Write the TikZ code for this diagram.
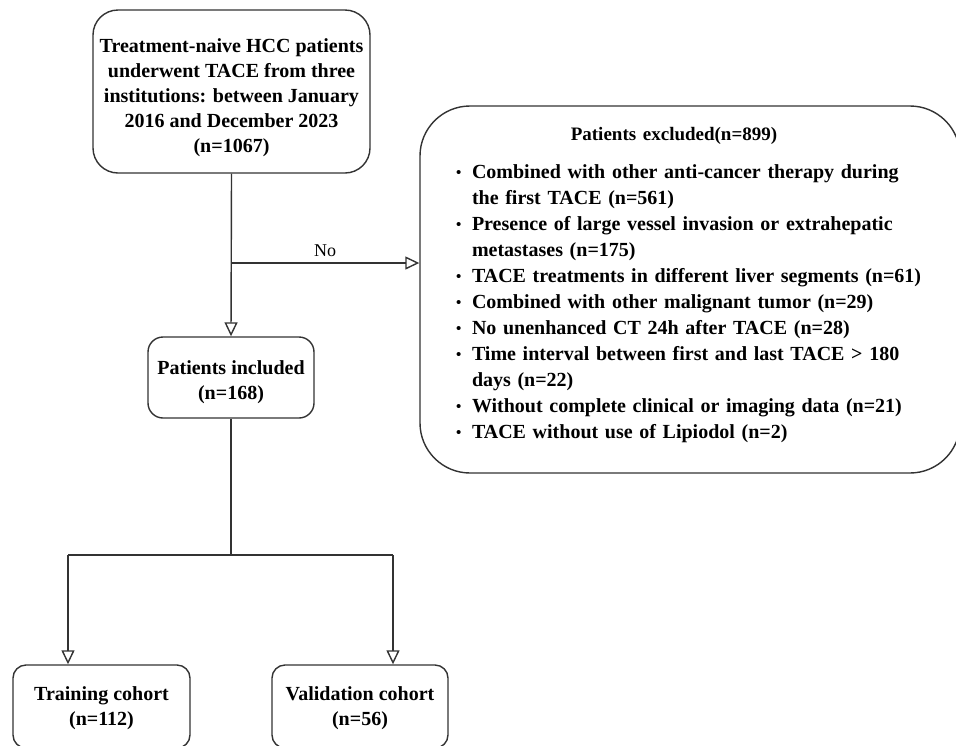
\documentclass[tikz,border=0pt]{standalone}
\usepackage{fontspec}
\setmainfont{Liberation Serif}
\usetikzlibrary{arrows.meta}
\newcommand\bitem[1]{\par\hangindent=17pt\hangafter=1\noindent\makebox[17pt][l]{\hspace{1pt}\raisebox{1.5pt}{\fontsize{15}{15}\selectfont\textbullet}}#1\par}
\newcommand\brk{\hfil\break}
\begin{document}
\begin{tikzpicture}[x=1pt,y=-1pt,
  box/.style={draw=black!80, line width=1.4pt, fill=white, align=center,
    font=\bfseries\fontsize{20}{25}\selectfont, inner sep=0pt},
  conn/.style={draw=black!80, line width=1.4pt},
  arr/.style={conn, -{Triangle[open, length=14pt, width=13pt]}}]
\useasboundingbox (0,0) rectangle (956,745);
\node[box, rounded corners=25pt, minimum width=277pt, minimum height=163pt] (top) at (231.5,91.5)
  {\rule{0pt}{26pt}Treatment-naive HCC patients\\underwent TACE from three\\institutions: between January\\2016 and December 2023\\(n=1067)};
\node[box, rounded corners=15pt, minimum width=166pt, minimum height=81pt] (inc) at (231,377.5)
  {\rule{0pt}{24pt}Patients included\\(n=168)};
\node[box, rounded corners=13pt, minimum width=177pt, minimum height=83pt] (train) at (101.5,706.5)
  {\rule{0pt}{18pt}Training cohort\\(n=112)};
\node[box, rounded corners=13pt, minimum width=176pt, minimum height=83pt] (val) at (360,706.5)
  {\rule{0pt}{18pt}Validation cohort\\(n=56)};
\node[box, rounded corners=50pt, minimum width=540pt, minimum height=367pt, text width=470pt, align=left,
  font=\bfseries\fontsize{20}{26}\selectfont] (excl) at (690,289.5)
  {\makebox[\linewidth]{\fontsize{19}{26}\selectfont Patients excluded(n=899)\hspace{32pt}}\par\vspace{12pt}
   \bitem{Combined with other anti-cancer therapy during\brk the first TACE (n=561)}
   \bitem{Presence of large vessel invasion or extrahepatic\brk metastases (n=175)}
   \bitem{TACE treatments in different liver segments (n=61)}
   \bitem{Combined with other malignant tumor (n=29)}
   \bitem{No unenhanced CT 24h after TACE (n=28)}
   \bitem{Time interval between first and last TACE > 180\brk days (n=22)}
   \bitem{Without complete clinical or imaging data (n=21)}
   \bitem{TACE without use of Lipiodol (n=2)\rule[-13pt]{0pt}{1pt}}};
\coordinate (br) at (231,263);
\coordinate (sl) at (68,555);
\coordinate (sr) at (393,555);
\coordinate (sm) at (231,555);
\draw[arr] (top.south) -- (inc.north);
\draw[arr] (br) -- (br -| excl.west) node[midway, above=2pt, font=\fontsize{18}{20}\selectfont] {No};
\draw[conn] (inc.south) -- (sm);
\draw[conn] (sl) -- (sr);
\draw[arr] (sl) -- (sl |- train.north);
\draw[arr] (sr) -- (sr |- val.north);
\end{tikzpicture}
\end{document}
